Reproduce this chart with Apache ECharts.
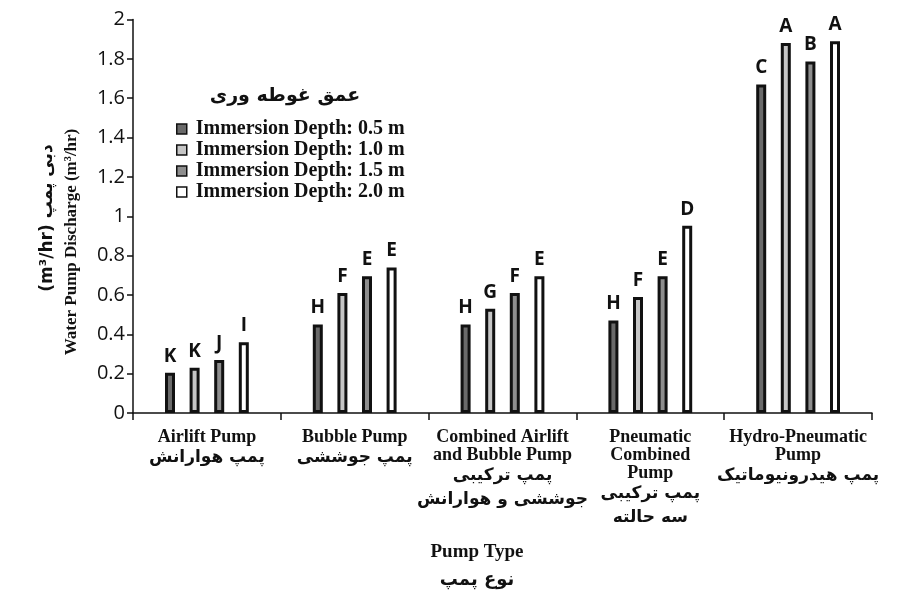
<!DOCTYPE html>
<html>
<head>
<meta charset="utf-8">
<script src="https://cdn.jsdelivr.net/npm/echarts@6/dist/echarts.min.js"></script>
<style>html,body{margin:0;padding:0;background:#fff}#c{width:912px;height:596px}</style>
</head>
<body>
<div id="c"></div>
<script>
const categoriesEn = ['Airlift Pump', 'Bubble Pump', 'Combined Airlift\nand Bubble Pump', 'Pneumatic\nCombined\nPump', 'Hydro-Pneumatic\nPump'];
const categoriesFa = ['پمپ هوارانش', 'پمپ جوششی', 'پمپ ترکیبی\nجوششی و هوارانش', 'پمپ ترکیبی\nسه حالته', 'پمپ هیدرونیوماتیک'];
const seriesNames = ['Immersion Depth: 0.5 m', 'Immersion Depth: 1.0 m', 'Immersion Depth: 1.5 m', 'Immersion Depth: 2.0 m'];
const depth05 = [0.205, 0.45, 0.45, 0.47, 1.67];
const depth10 = [0.23, 0.61, 0.53, 0.59, 1.88];
const depth15 = [0.27, 0.695, 0.61, 0.695, 1.787];
const depth20 = [0.36, 0.74, 0.695, 0.952, 1.89];
const letters05 = ['K', 'H', 'H', 'H', 'C'];
const letters10 = ['K', 'F', 'G', 'F', 'A'];
const letters15 = ['J', 'E', 'F', 'E', 'B'];
const letters20 = ['I', 'E', 'E', 'D', 'A'];
const yTicks = [0, 0.2, 0.4, 0.6, 0.8, 1, 1.2, 1.4, 1.6, 1.8, 2];

const fills = ['#6a6a6a', '#c6c6c6', '#8e8e8e', '#ffffff'];
const values = [depth05, depth10, depth15, depth20];
const letters = [letters05, letters10, letters15, letters20];

const chart = echarts.init(document.getElementById('c'));
const series = values.map((vals, si) => ({
  name: seriesNames[si],
  type: 'bar',
  data: vals,
  barWidth: 10,
  barGap: '146%',
  itemStyle: { color: fills[si], borderColor: '#111', borderWidth: 3 },
  label: {
    show: true, position: 'top', distance: 7,
    formatter: p => letters[si][p.dataIndex],
    fontFamily: 'Open Sans', fontWeight: 'bold', fontSize: 19, color: '#111'
  }
}));

chart.setOption({
  animation: false,
  backgroundColor: '#fff',
  grid: { left: 133, right: 40, top: 19.5, bottom: 183, containLabel: false },
  legend: {
    data: seriesNames, orient: 'vertical', left: 171, top: 114,
    icon: 'rect', itemWidth: 10, itemHeight: 10, itemGap: 1,
    itemStyle: { borderWidth: 1.5 },
    textStyle: { fontFamily: 'Liberation Serif', fontWeight: 'bold', fontSize: 20, color: '#111', padding: [0, 0, 0, 4] }
  },
  xAxis: {
    type: 'category',
    data: categoriesEn,
    axisLine: { lineStyle: { color: '#111', width: 1.5 } },
    axisTick: { show: true, length: 7, lineStyle: { color: '#111', width: 1.5 } },
    axisLabel: {
      interval: 0, margin: 15,
      formatter: (v, i) => {
        const en = v.split('\n').map(s => '{en|' + s + '}');
        const fa = categoriesFa[i].split('\n').map(s => '{fa|' + s + '}');
        return en.concat(fa).join('\n');
      },
      rich: {
        en: { fontFamily: 'Liberation Serif', fontWeight: 'bold', fontSize: 18, lineHeight: 18, color: '#111' },
        fa: { fontFamily: 'DejaVu Sans', fontWeight: 'bold', fontSize: 17, lineHeight: 24, color: '#111' }
      }
    }
  },
  yAxis: {
    type: 'value', min: 0, max: 2, interval: 0.2,
    splitLine: { show: false },
    axisLine: { show: true, lineStyle: { color: '#111', width: 1.5 } },
    axisTick: { show: true, length: 6, lineStyle: { color: '#111', width: 1.5 } },
    axisLabel: { margin: 8, fontFamily: 'Open Sans', fontSize: 20, color: '#111',
      formatter: v => { const t = yTicks.find(x => Math.abs(x - v) < 1e-6); return t === undefined ? '' : String(t); } }
  },
  series: series,
  graphic: [
    { type: 'text', x: 285, y: 96, style: { text: 'عمق غوطه وری', font: 'bold 19px "DejaVu Sans"', fill: '#111', align: 'center', verticalAlign: 'middle' } },
    { type: 'text', x: 72, y: 242, rotation: Math.PI / 2, style: { text: 'Water Pump Discharge (m³/hr)', font: 'bold 17px "Liberation Serif"', fill: '#111', align: 'center', verticalAlign: 'middle' } },
    { type: 'text', x: 48, y: 218, rotation: Math.PI / 2, style: { text: '(m³/hr) دبی پمپ', font: 'bold 17px "DejaVu Sans"', fill: '#111', align: 'center', verticalAlign: 'middle' } },
    { type: 'text', x: 477, y: 552, style: { text: 'Pump Type', font: 'bold 19px "Liberation Serif"', fill: '#111', align: 'center', verticalAlign: 'middle' } },
    { type: 'text', x: 477, y: 580, style: { text: 'نوع پمپ', font: 'bold 18px "DejaVu Sans"', fill: '#111', align: 'center', verticalAlign: 'middle' } }
  ]
});
</script>
</body>
</html>
